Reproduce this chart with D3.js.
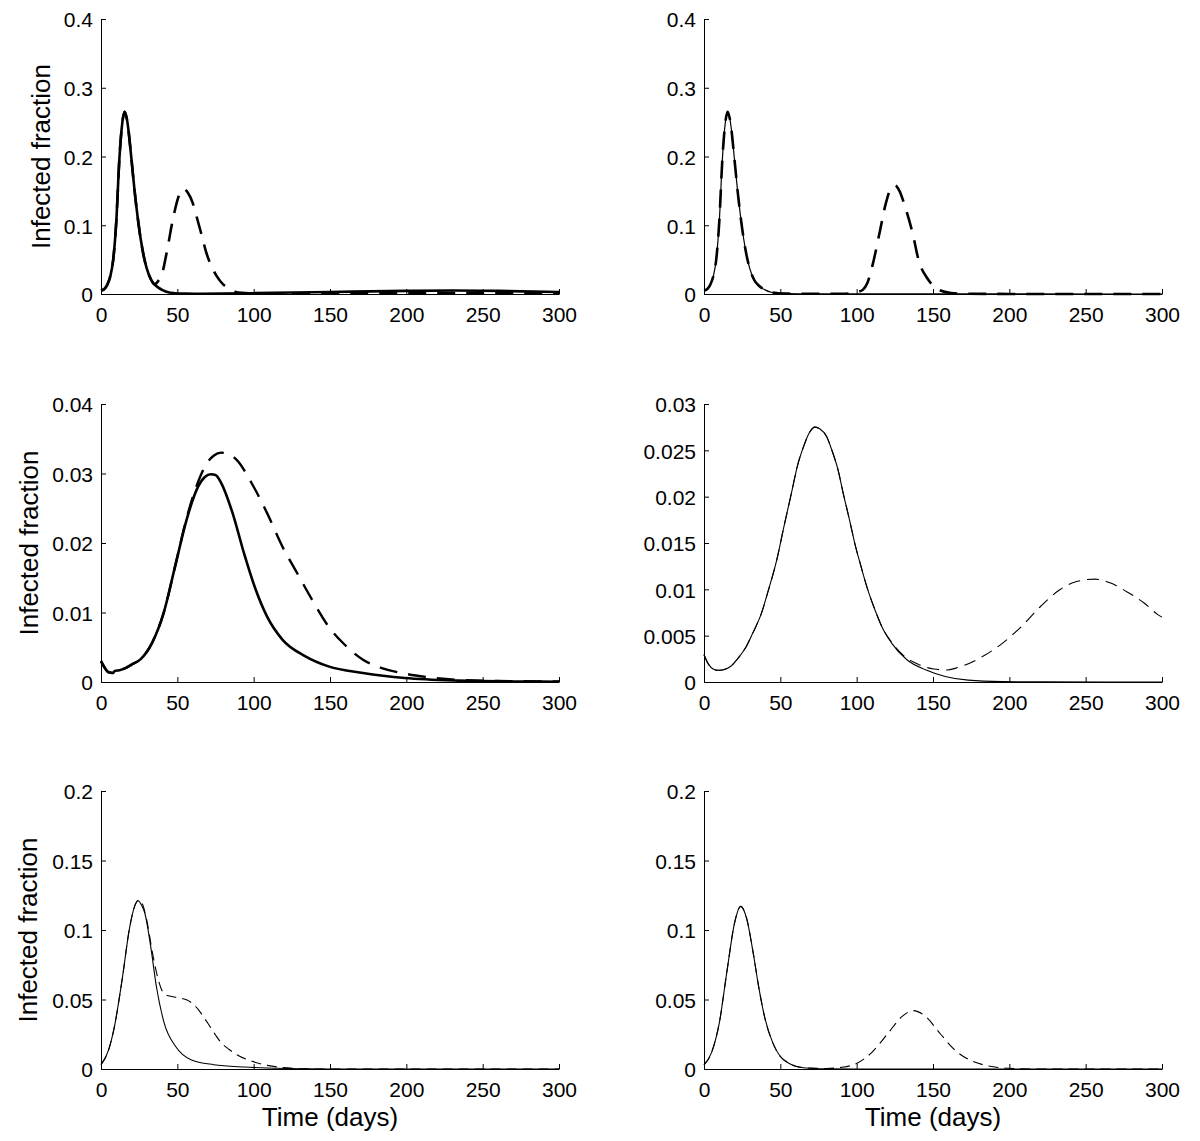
<!DOCTYPE html>
<html>
<head>
<meta charset="utf-8">
<script src="https://cdn.jsdelivr.net/npm/d3@7"></script>
<style>
  html, body { margin: 0; padding: 0; background: #fff; }
  svg { display: block; }
  text { font-family: "Liberation Sans", Arial, Helvetica, sans-serif; fill: #000; }
</style>
</head>
<body>
<svg id="chart" width="1200" height="1141"></svg>
<script>
// ---------------- DATA ----------------
const xTicks = [0, 50, 100, 150, 200, 250, 300];
const yTicksRow1 = [0, 0.1, 0.2, 0.3, 0.4];
const yTicksMidLeft = [0, 0.01, 0.02, 0.03, 0.04];
const yTicksMidRight = [0, 0.005, 0.01, 0.015, 0.02, 0.025, 0.03];
const yTicksRow3 = [0, 0.05, 0.1, 0.15, 0.2];
const yLabelText = "Infected fraction";
const xLabelText = "Time (days)";

// first epidemic peak (top row), [day, fraction]
const topPeak = [[0,0.005],[2,0.007],[4,0.013],[6,0.025],[8,0.05],[10,0.105],[12,0.195],[14,0.25],[15.5,0.265],[17,0.254],[20,0.195],[22,0.15],[24,0.112],[26,0.08],[28,0.055],[30,0.037],[33,0.02]];

const p1SolidTail = [[36,0.012],[40,0.006],[44,0.0025],[48,0.0012],[55,0.0005],[65,0.0003],[80,0.0006],[100,0.0012],[150,0.003],[200,0.0045],[230,0.005],[260,0.0045],[300,0.003]];
const p1DashedTail = [[35,0.014],[37.5,0.019],[40.2,0.031],[43,0.06],[47.4,0.112],[51,0.143],[54,0.153],[57,0.147],[60,0.133],[62.7,0.112],[66,0.085],[69,0.06],[72,0.042],[75.8,0.026],[80,0.014],[84,0.008],[87,0.004],[90,0.002],[100,0.0008],[150,0.001],[200,0.0015],[250,0.0015],[300,0.0012]];

const p2SolidTail = [[36,0.012],[40,0.006],[44,0.0025],[48,0.0012],[55,0.0005],[70,0.0002],[100,0.0001],[300,0]];
const p2DashedTail = [[36,0.012],[40,0.006],[44,0.0025],[48,0.0012],[55,0.0005],[70,0.0003],[90,0.0004],[97,0.001],[101,0.003],[104,0.006],[107,0.016],[110.4,0.042],[114.9,0.088],[119,0.131],[122,0.152],[125,0.158],[128,0.15],[131.7,0.127],[136.7,0.088],[140.5,0.05],[146.7,0.0215],[153,0.007],[161.8,0.0014],[170,0.0004],[200,0.0001],[300,0]];

const p3Solid = [[0,0.003],[2,0.0022],[5,0.0014],[8,0.0013],[9,0.0016],[12,0.0017],[16,0.002],[20,0.0025],[26,0.0033],[33.4,0.0056],[41,0.0099],[48.5,0.0166],[56,0.0233],[63.6,0.0281],[68,0.0295],[72,0.0299],[75,0.0298],[78.6,0.0287],[86.2,0.0243],[93.7,0.0185],[101.3,0.0133],[108.8,0.0094],[118.8,0.0061],[133.9,0.0037],[149,0.00225],[171.6,0.0013],[199,0.00057],[234,0.0002],[270,0.00008],[300,0.00004]];
const p3Dashed = [[0,0.003],[2,0.0022],[5,0.0014],[8,0.0013],[9,0.0016],[12,0.0017],[16,0.002],[20,0.0025],[26,0.0033],[33.4,0.0056],[41,0.0099],[48.5,0.0166],[56,0.0235],[63.6,0.0288],[68.6,0.0312],[74,0.0326],[78.6,0.033],[83,0.0328],[88.7,0.032],[98.7,0.0286],[108.8,0.0243],[118.8,0.0195],[128.9,0.0155],[138.9,0.0116],[149,0.008],[159,0.0055],[171.6,0.0032],[184,0.002],[199,0.0012],[214,0.0007],[234,0.0003],[260,0.00015],[300,0.00008]];

const p4Solid = [[0,0.00295],[3,0.0019],[6,0.0014],[8.8,0.00126],[12,0.0013],[17.6,0.0017],[22,0.0025],[27.6,0.0038],[32,0.0053],[37.6,0.0074],[42,0.0098],[47.7,0.0132],[52,0.0165],[57.7,0.0207],[61,0.0232],[65.2,0.0254],[69,0.0269],[72.7,0.0275],[76,0.0273],[80.3,0.0265],[84,0.0249],[87.8,0.0229],[91,0.0205],[95.3,0.0175],[99,0.0148],[102.8,0.0125],[107,0.0101],[112.9,0.0074],[117,0.0058],[122.9,0.0042],[132.9,0.0024],[145.5,0.0013],[158,0.0006],[173,0.0002],[195.6,0.00004],[220,0.00001],[300,0]];
const p4Dashed = [[0,0.00295],[3,0.0019],[6,0.0014],[8.8,0.00126],[12,0.0013],[17.6,0.0017],[22,0.0025],[27.6,0.0038],[32,0.0053],[37.6,0.0074],[42,0.0098],[47.7,0.0132],[52,0.0165],[57.7,0.0207],[61,0.0232],[65.2,0.0254],[69,0.0269],[72.7,0.0275],[76,0.0273],[80.3,0.0265],[84,0.0249],[87.8,0.0229],[91,0.0205],[95.3,0.0175],[99,0.0148],[102.8,0.0125],[107,0.0101],[112.9,0.0074],[117,0.0058],[122.9,0.0043],[130.4,0.0029],[140.5,0.0019],[150.5,0.0014],[159.3,0.0013],[165,0.0015],[170.6,0.0018],[183,0.0028],[195.6,0.0042],[208,0.006],[220.7,0.0082],[233,0.00995],[243,0.0108],[256,0.0111],[265.9,0.0107],[278.4,0.0096],[288.5,0.0085],[297,0.0073],[300,0.007]];

const p5Solid = [[0,0.0031],[5,0.0138],[8.8,0.0305],[13.8,0.064],[18.8,0.102],[22,0.117],[24.3,0.121],[26.5,0.118],[28.8,0.1117],[32.6,0.0878],[36.3,0.0592],[41.4,0.033],[48.9,0.0162],[58.9,0.0067],[73.9,0.0031],[94,0.0014],[109,0.0007],[130,0.0002],[150,0],[300,0]];
const p5Dashed = [[0,0.0031],[5,0.0138],[8.8,0.0305],[13.8,0.064],[18.8,0.102],[22,0.117],[25,0.1217],[27,0.119],[30,0.107],[33.8,0.083],[37.6,0.064],[41.4,0.054],[45,0.0525],[48.9,0.0516],[52,0.051],[56.4,0.0496],[60,0.047],[63.9,0.0425],[67.5,0.037],[71.4,0.0305],[75,0.0245],[79,0.0186],[84,0.014],[89,0.0103],[99,0.0055],[109,0.0026],[124,0.0007],[134,0.0001],[150,0],[300,0]];

const p6Solid = [[0,0.003],[5,0.012],[10,0.033],[15,0.07],[20,0.105],[24,0.117],[28,0.108],[32,0.085],[36,0.058],[40,0.036],[45,0.019],[50,0.009],[55,0.0045],[60,0.002],[70,0.0005],[80,0.0001],[100,0],[300,0]];
const p6Dashed = [[0,0.003],[5,0.012],[10,0.033],[15,0.07],[20,0.105],[24,0.117],[28,0.108],[32,0.085],[36,0.058],[40,0.036],[45,0.019],[50,0.009],[55,0.0045],[60,0.002],[70,0.0006],[80,0.0004],[90,0.0012],[100,0.004],[110,0.012],[120,0.025],[130,0.038],[137,0.042],[145,0.038],[155,0.025],[165,0.013],[175,0.006],[185,0.0025],[200,0.0005],[220,0],[300,0]];

// ---------------- LAYOUT ----------------
const svg = d3.select("#chart");
const colX = [[101, 559], [704, 1162]];
const rowY = [[19, 294], [404, 682], [791, 1069]];

const panels = [
  {c:0, r:0, yMax:0.4,  yTicks:yTicksRow1,    solid:topPeak.concat(p1SolidTail), dashed:topPeak.concat(p1DashedTail), sw:2.6, dw:2.6, dash:"18,11", ylab:true, ylx:50},
  {c:1, r:0, yMax:0.4,  yTicks:yTicksRow1,    solid:topPeak.concat(p2SolidTail), dashed:topPeak.concat(p2DashedTail), sw:1.2, dw:2.6, dash:"18,11", ylab:false},
  {c:0, r:1, yMax:0.04, yTicks:yTicksMidLeft, solid:p3Solid, dashed:p3Dashed, sw:2.6, dw:2.4, dash:"18,11", ylab:true, ylx:38},
  {c:1, r:1, yMax:0.03, yTicks:yTicksMidRight,solid:p4Solid, dashed:p4Dashed, sw:1.1, dw:1.1, dash:"12,7", ylab:false},
  {c:0, r:2, yMax:0.2,  yTicks:yTicksRow3,    solid:p5Solid, dashed:p5Dashed, sw:1.1, dw:1.1, dash:"10,6", ylab:true, ylx:37, xlab:true},
  {c:1, r:2, yMax:0.2,  yTicks:yTicksRow3,    solid:p6Solid, dashed:p6Dashed, sw:1.1, dw:1.1, dash:"10,6", ylab:false, xlab:true}
];

panels.forEach(p => {
  const [x0, x1] = colX[p.c];
  const [yTop, yBot] = rowY[p.r];
  const x = d3.scaleLinear().domain([0, 300]).range([x0, x1]);
  const y = d3.scaleLinear().domain([0, p.yMax]).range([yBot, yTop]);
  const g = svg.append("g");

  const line = d3.line().x(d => x(d[0])).y(d => y(d[1])).curve(d3.curveMonotoneX);

  g.append("path").attr("d", line(p.dashed))
    .attr("fill", "none").attr("stroke", "#000")
    .attr("stroke-width", p.dw).attr("stroke-dasharray", p.dash);
  g.append("path").attr("d", line(p.solid))
    .attr("fill", "none").attr("stroke", "#000")
    .attr("stroke-width", p.sw);

  const xa = g.append("g").attr("transform", `translate(0,${yBot})`)
    .call(d3.axisBottom(x).tickValues(xTicks).tickFormat(d3.format("d"))
      .tickSizeInner(-5).tickSizeOuter(0).tickPadding(13));
  const ya = g.append("g").attr("transform", `translate(${x0},0)`)
    .call(d3.axisLeft(y).tickValues(p.yTicks).tickFormat(d => String(d))
      .tickSizeInner(-5).tickSizeOuter(0).tickPadding(8));
  [xa, ya].forEach(a => {
    a.selectAll("path,line").attr("stroke", "#000").attr("stroke-width", 1);
    a.selectAll("text").attr("font-size", 21).attr("fill", "#000")
      .style("font-family", '"Liberation Sans", Arial, Helvetica, sans-serif');
  });
  ya.selectAll("text").attr("dy", "0.38em");

  if (p.ylab) {
    g.append("text")
      .attr("transform", `translate(${p.ylx},${(yTop + yBot) / 2}) rotate(-90)`)
      .attr("text-anchor", "middle")
      .attr("font-size", 26)
      .text(yLabelText);
  }
  if (p.xlab) {
    g.append("text")
      .attr("x", (x0 + x1) / 2)
      .attr("y", yBot + 57)
      .attr("text-anchor", "middle")
      .attr("font-size", 26)
      .text(xLabelText);
  }
});
</script>
</body>
</html>
